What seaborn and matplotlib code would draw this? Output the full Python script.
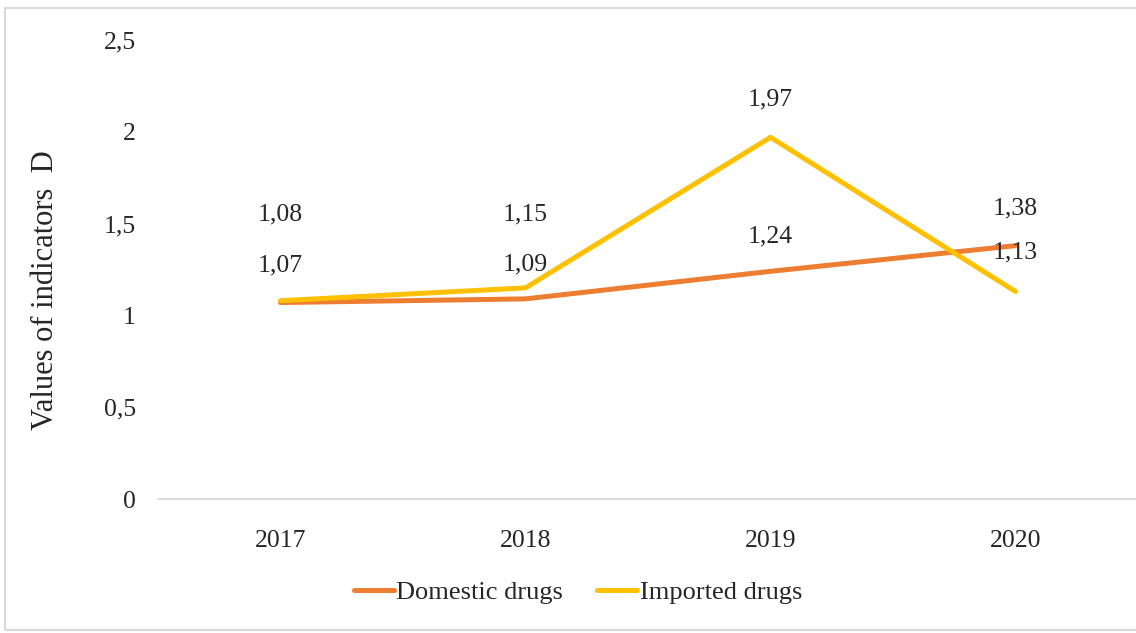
import matplotlib
matplotlib.use("Agg")
import matplotlib.pyplot as plt
import seaborn as sns
import pandas as pd
from matplotlib.patches import Rectangle

years = ["2017", "2018", "2019", "2020"]
domestic = [1.07, 1.09, 1.24, 1.38]
imported = [1.08, 1.15, 1.97, 1.13]
series_names = ["Domestic drugs", "Imported drugs"]
yticks = [0, 0.5, 1, 1.5, 2, 2.5]

sns.set_style("white")
plt.rcParams["font.family"] = ["Liberation Serif", "DejaVu Serif"]

df = pd.DataFrame({
    "Year": years * 2,
    "Value": domestic + imported,
    "Series": [series_names[0]] * 4 + [series_names[1]] * 4,
})

fig = plt.figure(figsize=(11.36, 6.33), dpi=100)
# chart border like the Excel chart area
fig.patches.append(Rectangle((5 / 1136, 3 / 633), 1.2, 622 / 633, transform=fig.transFigure,
                             fill=False, edgecolor="#d9d9d9", linewidth=1.5))
ax = fig.add_axes([158 / 1136, 134 / 633, 980 / 1136, 459 / 633])

palette = {"Domestic drugs": "#ED7D31", "Imported drugs": "#FFC000"}
sns.lineplot(data=df, x="Year", y="Value", hue="Series", palette=palette,
             linewidth=3.6, sort=False, ax=ax, legend=True)

ax.set_xlim(-0.5, 3.5)
ax.set_ylim(0, 2.5)
ax.set_yticks(yticks)
ax.set_yticklabels([f"{t:g}".replace(".", ",") for t in yticks])
ax.tick_params(axis="y", length=0, pad=16, labelsize=18.5)
ax.tick_params(axis="x", length=0, pad=22, labelsize=18.5)
for s in ["top", "right", "left"]:
    ax.spines[s].set_visible(False)
ax.spines["bottom"].set_color("#d9d9d9")
ax.spines["bottom"].set_linewidth(1.3)
ax.set_xlabel("")
ax.set_ylabel("Values of indicators  D", fontsize=22)
ax.yaxis.set_label_coords(-0.1, 0.455)

# data labels (offsets in points, tuned to avoid overlap)
dom_off = [27, 25, 25, 27]
imp_off = [62, 53, 27, 28]
for i, (d, im) in enumerate(zip(domestic, imported)):
    ax.annotate(f"{d:.2f}".replace(".", ","), (i, d), xytext=(0, dom_off[i]),
                textcoords="offset points", ha="center", va="center", fontsize=18.5)
    ax.annotate(f"{im:.2f}".replace(".", ","), (i, im), xytext=(0, imp_off[i]),
                textcoords="offset points", ha="center", va="center", fontsize=18.5)

handles, labels = ax.get_legend_handles_labels()
leg = ax.legend(handles, labels, loc="center", bbox_to_anchor=(578 / 1136, 41 / 633),
                bbox_transform=fig.transFigure, ncol=2, frameon=False, fontsize=19,
                handlelength=1.5, handletextpad=0.1, columnspacing=1.3)

fig.savefig("out.png", dpi=100)
